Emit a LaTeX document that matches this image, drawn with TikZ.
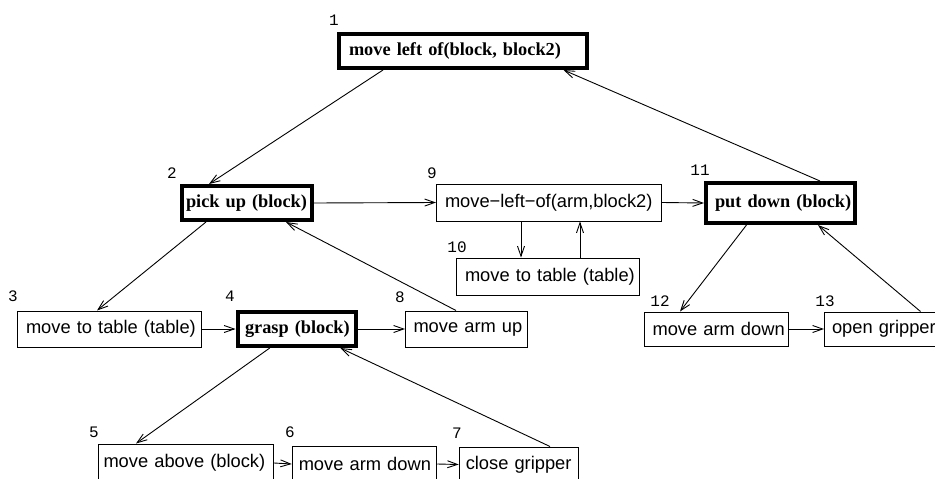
\documentclass[tikz,border=0pt]{standalone}
\usepackage{fontspec}
\usetikzlibrary{arrows.meta}
\newfontfamily\sansf{Liberation Sans}
\newfontfamily\seriff{Liberation Serif}
\newfontfamily\monof{Liberation Mono}
\begin{document}
\begin{tikzpicture}[x=1pt,y=-1pt,
  tbox/.style={draw, line width=1pt, font=\sansf\fontsize{18.3}{20}\selectfont, inner ysep=0pt, align=left},
  kbox/.style={draw, line width=4pt, font=\seriff\bfseries\fontsize{18.3}{20}\selectfont, inner ysep=0pt, align=left},
  num/.style={font=\monof\fontsize{16}{16}\selectfont, inner sep=0pt},
  conn/.style={line width=0.9pt, -{Straight Barb[length=10pt,width=7pt]}}]
\useasboundingbox (0,0) rectangle (935,479);
% boxes
\node[kbox, minimum width=248pt, minimum height=34pt, inner xsep=10pt, text width=228pt] (n1) at (463,51) {\mbox{move left of(block, block2)}};
\node[kbox, minimum width=130pt, minimum height=34pt, inner xsep=4pt, text width=122pt] (n2) at (247,203) {\mbox{pick up (block)}};
\node[kbox, minimum width=149pt, minimum height=40pt, inner xsep=9pt, text width=131pt] (n11) at (780.5,203) {\mbox{put down (block)}};
\node[kbox, minimum width=118.5pt, minimum height=34pt, inner xsep=7.5pt, text width=103.5pt] (n4) at (296.75,329) {\mbox{grasp (block)}};
\node[tbox, minimum width=225pt, minimum height=37pt, inner xsep=8.5pt, text width=208pt] (n9) at (549,202.5) {\mbox{move\char"2212 left\char"2212 of(arm,block2)}};
\node[tbox, minimum width=183pt, minimum height=37pt, inner xsep=8.5pt, text width=166pt] (n10) at (548,276.5) {\mbox{move to table (table)}};
\node[tbox, minimum width=184pt, minimum height=36pt, inner xsep=8.5pt, text width=167pt] (n3) at (109.5,329) {\mbox{move to table (table)}};
\node[tbox, minimum width=122pt, minimum height=36pt, inner xsep=8pt, text width=106pt] (n8) at (466.5,329) {\mbox{move arm up}};
\node[tbox, minimum width=144pt, minimum height=34pt, inner xsep=8pt, text width=128pt] (n12) at (716.5,329) {\mbox{move arm down}};
\node[tbox, minimum width=118pt, minimum height=34pt, inner xsep=7.5pt, text width=103pt] (n13) at (883.5,329) {\mbox{open gripper}};
\node[tbox, minimum width=175pt, minimum height=38pt, inner xsep=5pt, text width=165pt] (n5) at (186,463) {\mbox{move above (block)}};
\node[tbox, minimum width=144.5pt, minimum height=36pt, inner xsep=6.5pt, text width=131.5pt] (n6) at (364.5,464) {\mbox{move arm down}};
\node[tbox, minimum width=119.5pt, minimum height=35pt, inner xsep=6.5pt, text width=106.5pt] (n7) at (519,464.5) {\mbox{close gripper}};
% numbers
\node[num] (l1) at (334,20) {1};
\node[num] (l2) at (172,173) {2};
\node[num] (l3) at (13,296) {3};
\node[num] (l4) at (230,296) {4};
\node[num] (l5) at (94,432) {5};
\node[num] (l6) at (290,432) {6};
\node[num] (l7) at (457,433) {7};
\node[num] (l8) at (400,297) {8};
\node[num] (l9) at (432,173) {9};
\node[num] (l10) at (457,247) {10};
\node[num] (l11) at (700,170) {11};
\node[num] (l12) at (660,301) {12};
\node[num] (l13) at (825,301) {13};
% connectors
\draw[conn] ([xshift=-80pt]n1.south) -- ([xshift=-38pt]n2.north);
\draw[conn] ([xshift=39.5pt]n11.north) -- ([xshift=100.5pt]n1.south);
\draw[conn] (n2.east) -- (n9.west);
\draw[conn] (n9.east) -- (n11.west);
\draw[conn] ([xshift=-28pt]n9.south) -- ([xshift=-27pt]n10.north);
\draw[conn] ([xshift=32pt]n10.north) -- ([xshift=31pt]n9.south);
\draw[conn] ([xshift=-41pt]n2.south) -- ([xshift=-12.5pt]n3.north);
\draw[conn] ([xshift=-10.5pt]n8.north) -- ([xshift=39pt]n2.south);
\draw[conn] (n3.east) -- (n4.west);
\draw[conn] (n4.east) -- (n8.west);
\draw[conn] ([xshift=-34pt]n11.south) -- ([xshift=-36.5pt]n12.north);
\draw[conn] (n12.east) -- (n13.west);
\draw[conn] ([xshift=37pt]n13.north) -- ([xshift=37.5pt]n11.south);
\draw[conn] ([xshift=-27pt]n4.south) -- ([xshift=-50pt]n5.north);
\draw[conn] ([xshift=31pt]n7.north) -- ([xshift=43.5pt]n4.south);
\draw[conn] (n5.east) -- (n6.west);
\draw[conn] (n6.east) -- (n7.west);
\end{tikzpicture}
\end{document}
